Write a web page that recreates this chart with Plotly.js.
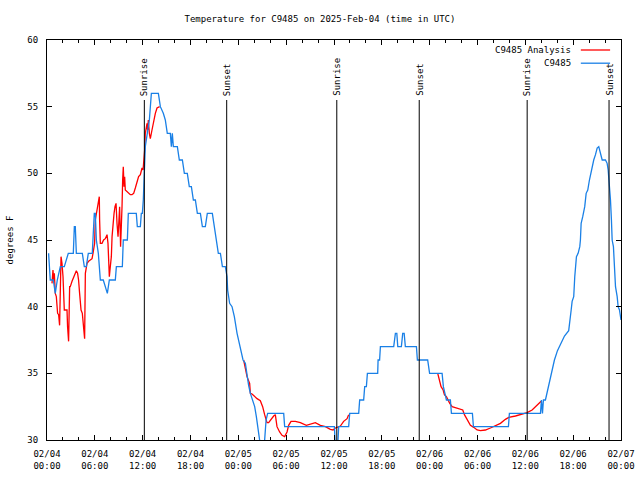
<!DOCTYPE html>
<html>
<head>
<meta charset="utf-8">
<script src="https://cdn.plot.ly/plotly-3.0.1.min.js"></script>
<style>html,body{margin:0;padding:0;background:#fff;}#chart{width:640px;height:480px;}</style>
</head>
<body>
<div id="chart"></div>
<script>
// Hours since 2025-02-04 00:00 UTC
const blueHours = [0.20,0.41,0.79,1.04,1.29,1.67,2.17,2.67,3.30,3.43,3.55,3.68,4.43,4.68,4.93,5.18,5.68,5.93,6.06,6.19,6.44,6.69,7.06,7.31,7.57,7.82,8.57,8.70,9.45,9.57,10.08,10.20,11.20,11.33,11.71,11.83,11.96,12.08,12.21,12.33,12.58,12.84,13.09,13.97,14.22,14.59,14.84,15.09,15.47,15.60,15.72,15.85,16.35,16.60,16.98,17.23,17.60,17.85,18.11,18.36,18.61,18.86,19.24,19.49,19.86,20.11,20.74,20.99,21.24,21.49,21.75,22.00,22.37,22.58,22.66,22.91,23.21,23.50,23.84,24.25,24.59,24.88,25.09,25.29,25.51,25.80,26.05,26.26,26.47,26.67,26.89,27.14,27.30,27.48,27.68,29.69,29.81,36.05,36.17,36.46,36.59,37.84,37.97,39.10,39.22,39.72,39.85,40.06,40.19,41.48,41.53,41.72,41.82,43.49,43.70,43.88,44.00,44.45,44.62,44.80,44.95,46.34,46.46,47.75,47.99,49.56,49.72,50.10,50.60,50.73,53.36,53.49,57.88,58.00,61.90,62.02,62.15,62.27,62.52,62.90,63.28,63.65,64.03,64.53,64.91,65.44,65.57,65.75,65.87,66.07,66.20,66.41,66.62,66.83,66.91,67.00,67.20,67.45,67.63,67.83,68.04,68.29,68.58,68.80,69.01,69.21,69.42,69.64,70.05,70.26,70.39,70.55,70.68,70.80,70.89,71.05,71.18,71.31,71.52,71.64,71.81,71.94,72.00];
const blueTemps = [44,42,42,41,42,43,43,44,44,46,46,44,44,43,43,44,44,47,47,45,44,42,42,41.5,41,42,42,43,43,45,45,47,47,46,46,47,47,48,50,52,53,54,56,56,55,54.5,54,53,53,52,53,52,52,51,51,50,50,49,49,48,48,47,47,46,46,47,47,46,45,44,44,43,43,42.25,41.25,40.25,40,39.25,38,37,36,35.75,34.75,34.1,33.5,33,32.5,31.75,31,30,29,29,30,31.5,32,32,31,31,29.5,29.5,31,31,32,32,33,33,34,34,35,35,36,36,37,37,38,38,37,37,38,38,37,37,36,36,35,35,34,33,33,32,32,31,31,32,32,33,32,33,33,34,35,36,36.7,37.3,37.8,38.2,39.1,39.75,40.4,40.75,42.25,43.75,44,44.5,45,46.25,46.75,47.5,48.5,48.75,49.5,50.25,51,51.4,51.9,52,51.6,51,51,50.75,50.25,49.25,48,46.5,45,44.5,43.25,41.5,40.75,40,39.75,39.25,39];

// Analysis series (null = gap)
const redHours = [0.63,0.75,0.83,0.92,1.04,1.17,1.33,1.46,1.58,1.76,1.88,2.01,2.17,2.30,2.51,2.58,2.71,2.84,2.92,3.14,3.34,3.55,3.68,3.84,3.96,4.09,4.27,4.43,4.52,4.59,4.72,4.81,4.89,5.02,5.22,5.43,5.65,5.77,5.85,5.97,6.06,6.19,6.35,6.47,6.56,6.60,6.69,6.90,7.10,7.31,7.53,7.65,7.73,7.82,7.94,8.07,8.16,8.28,8.41,8.53,8.66,8.78,8.91,8.98,9.11,9.23,9.32,9.41,9.49,9.57,9.66,9.74,9.82,10.04,10.24,10.45,10.66,10.87,11.08,11.29,11.49,11.71,11.83,11.92,12.05,12.12,12.25,12.33,12.42,12.55,12.62,12.71,12.84,12.96,13.17,13.37,13.59,13.80,14.13,
  null,
  24.67,25.09,25.42,25.51,25.72,26.35,26.76,27.05,27.30,27.60,27.80,28.14,28.43,28.64,28.85,29.18,29.48,29.81,30.11,30.31,30.61,31.15,31.78,32.53,33.04,33.66,34.29,34.92,35.54,35.88,36.17,36.39,36.80,37.21,37.64,37.84,
  null,
  49.01,49.26,49.43,49.69,49.85,50.10,50.27,50.52,50.82,51.44,51.86,52.15,52.36,52.70,53.11,53.53,53.95,54.37,54.99,55.62,56.25,56.88,57.50,57.92,58.76,59.60,60.23,60.85,61.27,61.68,61.98];
const redTemps = [41.75,42.75,42,42.5,41,40.75,39.5,39.4,38.6,43.75,43.25,42.25,39.75,39.75,39.75,38.5,37.4,41.5,41.5,41.9,42.25,42.5,42.7,42.5,42,41,39.75,39.5,38.75,38,37.6,42.5,43,43.25,43.4,43.5,43.6,44,44.5,44.75,46.5,47,47.5,48,48.25,46.5,44.75,44.75,45,45.1,45.4,44.75,43.5,42.25,43,43.75,45.25,46.25,47,47.5,47.75,46.25,45.25,46,47.5,44.5,45.5,47.5,49.5,50.5,49,49.75,48.75,48.6,48.5,48.4,48.4,48.5,48.9,49.4,49.75,49.9,50.1,50.4,50.25,50.75,51.75,53,53.5,53.75,53.25,54,53,52.6,53.25,53.9,54.5,54.9,55,
  null,
  36,34.75,34.25,33.5,33.45,33.1,32.95,32.5,31.9,31.3,31.3,31.6,31.8,31.9,31,30.6,30.35,30.25,30.6,31.1,31.4,31.4,31.3,31.1,31.2,31.3,31.1,31,30.8,30.75,30.9,30.95,31.05,31.4,31.6,31.9,
  null,
  35,34.4,34,33.75,33.4,33.25,33,32.75,32.5,32.4,32.3,32.25,31.9,31.5,31.1,30.95,30.75,30.7,30.75,30.9,31.05,31.25,31.55,31.7,31.8,31.95,32.05,32.25,32.5,32.75,32.9];

const sunHours = [12.21, 22.54, 36.35, 46.69, 60.23, 70.50];
const sunLabels = ["Sunrise","Sunset","Sunrise","Sunset","Sunrise","Sunset"];
const seriesNames = ["C9485 Analysis","C9485"];
const yTicks = [30,35,40,45,50,55,60];

const BASE = Date.UTC(2025,1,4,0,0,0);
function toDate(h){
  if (h === null) return null;
  return new Date(BASE + Math.round(h*3600000)).toISOString().slice(0,19).replace('T',' ');
}

const FONT = "DejaVu Sans Mono, monospace";
const redColor = "#ff0000";
const blueColor = "#1a80e6";

const traces = [
  {x: redHours.map(toDate), y: redTemps, type:'scatter', mode:'lines', name: seriesNames[0],
   line:{color:redColor, width:1.3}, connectgaps:false, hoverinfo:'skip'},
  {x: blueHours.map(toDate), y: blueTemps, type:'scatter', mode:'lines', name: seriesNames[1],
   line:{color:blueColor, width:1.3}, hoverinfo:'skip'}
];

const shapes = sunHours.map(h => ({type:'line', xref:'x', yref:'paper', x0:toDate(h), x1:toDate(h), y0:0, y1:0.85,
  line:{color:'#000', width:1}, layer:'above'}));
const annotations = sunHours.map((h,i) => ({x:toDate(h), xref:'x', y:0.855, yref:'paper', text:sunLabels[i],
  textangle:-90, showarrow:false, xanchor:'center', yanchor:'bottom', font:{family:FONT, size:9, color:'#000'}}));

// legend (gnuplot style: text then sample)
const legY = [0.975, 0.942];
const legColors = [redColor, blueColor];
seriesNames.forEach((n,i) => {
  annotations.push({x:0.917, xref:'paper', y:legY[i], yref:'paper', text:n, showarrow:false,
    xanchor:'right', yanchor:'middle', font:{family:FONT, size:9, color:'#000'}});
  shapes.push({type:'line', xref:'paper', yref:'paper', x0:0.930, x1:0.981, y0:legY[i], y1:legY[i],
    line:{color:legColors[i], width:1.3}});
});

const layout = {
  width:640, height:480,
  margin:{l:47, r:19, t:40, b:40},
  paper_bgcolor:'#fff', plot_bgcolor:'#fff',
  showlegend:false,
  font:{family:FONT, size:9, color:'#000'},
  title:{text:'Temperature for C9485 on 2025-Feb-04 (time in UTC)', x:0.5, xref:'container', xanchor:'center',
         y:1-19/480, yref:'container', yanchor:'middle', font:{family:FONT, size:9, color:'#000'}},
  xaxis:{type:'date', range:[toDate(0), toDate(72)], tick0:toDate(0), dtick:6*3600000,
         tickformat:'%m/%d<br>%H:%M', ticks:'inside', ticklen:5, tickcolor:'#000',
         minor:{dtick:2*3600000, ticks:'inside', ticklen:3, tickcolor:'#000'},
         showline:true, linecolor:'#000', linewidth:1, mirror:'allticks', showgrid:false, zeroline:false,
         ticklabelstandoff:5, tickfont:{family:FONT, size:9, color:'#000'}},
  yaxis:{range:[30,60], tickvals:yTicks, ticks:'inside', ticklen:5, tickcolor:'#000',
         showline:true, linecolor:'#000', linewidth:1, mirror:'allticks', showgrid:false, zeroline:false,
         ticklabelstandoff:6, tickfont:{family:FONT, size:9, color:'#000'},
         title:{text:'degrees F', standoff:12, font:{family:FONT, size:9, color:'#000'}}},
  shapes:shapes,
  annotations:annotations
};

Plotly.newPlot('chart', traces, layout, {staticPlot:true, displayModeBar:false});
</script>
</body>
</html>
